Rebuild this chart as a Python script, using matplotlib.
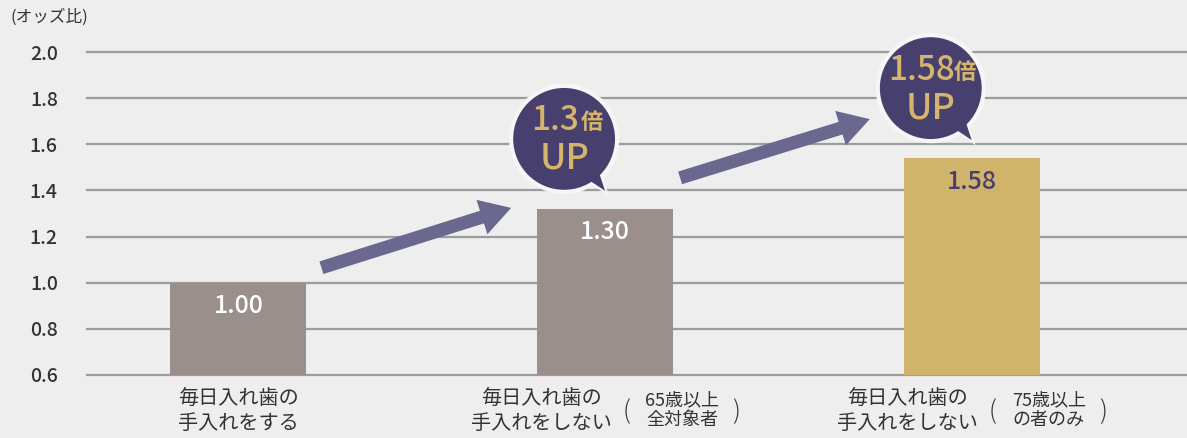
import matplotlib
matplotlib.use("Agg")
import matplotlib.pyplot as plt
import matplotlib.transforms as mtransforms
from matplotlib.patches import Circle, Polygon, FancyArrowPatch

plt.rcParams['font.family'] = ['Noto Sans CJK JP', 'DejaVu Sans']

# データ
categories = ["毎日入れ歯の\n手入れをする", "毎日入れ歯の\n手入れをしない", "毎日入れ歯の\n手入れをしない"]
notes = [None, "65歳以上\n全対象者", "75歳以上\nの者のみ"]
bar_heights = [1.00, 1.32, 1.54]          # 図から読んだ棒の高さ
value_labels = ["1.00", "1.30", "1.58"]
up_labels = [None, "1.3", "1.58"]
yticks = [0.6, 0.8, 1.0, 1.2, 1.4, 1.6, 1.8, 2.0]

BG = "#eeeeee"
GRID = "#9c9c9c"
TEXT = "#333333"
NAVY = "#47406e"
GOLD = "#d5b56b"
ARROW = "#6b6890"
HALO = "#f6f6f6"
bar_colors = ["#9a8f8b", "#9a8f8b", "#d1b46c"]
value_colors = ["white", "white", NAVY]

fig = plt.figure(figsize=(11.87, 4.38), dpi=100, facecolor=BG)
ax = fig.add_axes([87 / 1187, 63 / 438, 1 - 87 / 1187, (375 - 52) / 438])
ax.set_facecolor(BG)
ax.set_xlim(-0.413, 2.587)
ax.set_ylim(0.6, 2.0)
for s in ax.spines.values():
    s.set_visible(False)

# 目盛り・横線
ax.set_yticks(yticks)
ax.set_yticklabels([f"{v:.1f}" for v in yticks], fontsize=14, color=TEXT, fontweight="medium")
ax.tick_params(axis="y", length=0, pad=21)
ax.set_xticks([])
for v in yticks:
    ax.axhline(v, color=GRID, lw=1.6, zorder=1, clip_on=False)

xs = list(range(len(categories)))
ax.bar(xs, [h - 0.6 for h in bar_heights], bottom=0.6, width=0.371,
       color=bar_colors, zorder=2)

# 棒の中の数値
for x, h, lab, c in zip(xs, bar_heights, value_labels, value_colors):
    ax.annotate(lab, (x, h), xytext=(0, -17), textcoords="offset points",
                ha="center", va="center", fontsize=18, color=c, fontweight="medium", zorder=3)

# x軸ラベル
px = 0.72  # 1px = 0.72pt
for x, cat, note in zip(xs, categories, notes):
    dx = 0 if note is None else -64 * px
    ax.annotate(cat, (x, 0.6), xytext=(dx, -36 * px), textcoords="offset points",
                ha="center", va="center", fontsize=14.5, color=TEXT, linespacing=1.2,
                annotation_clip=False)
    if note is not None:
        ax.annotate(note, (x, 0.6), xytext=(77 * px, -35 * px), textcoords="offset points",
                    ha="center", va="center", fontsize=13, color=TEXT, linespacing=1.1,
                    annotation_clip=False)
        ax.annotate("(", (x, 0.6), xytext=(21 * px, -37 * px), textcoords="offset points",
                    ha="center", va="center", fontsize=18, color=TEXT, fontweight="light",
                    annotation_clip=False)
        ax.annotate(")", (x, 0.6), xytext=(131 * px, -37 * px), textcoords="offset points",
                    ha="center", va="center", fontsize=18, color=TEXT, fontweight="light",
                    annotation_clip=False)

fig.text(11 / 1187, 1 - 17 / 438, "(オッズ比)", fontsize=12, color=TEXT, ha="left", va="center")

# 吹き出し（棒の上端からピクセル単位でずらす）
for x, h, up in zip(xs, bar_heights, up_labels):
    if up is None:
        continue
    tr = fig.dpi_scale_trans + mtransforms.ScaledTranslation(x, h, ax.transData)
    cx, cy = -0.41, 0.70
    r = 0.53
    tail_pts = [(cx + 0.20, cy - 0.38), (cx + 0.41, cy - 0.52), (cx + 0.33, cy - 0.28)]
    ax.add_patch(Polygon(tail_pts, closed=True, transform=tr, facecolor=NAVY,
                         edgecolor=HALO, lw=3, zorder=4, clip_on=False))
    ax.add_patch(Circle((cx, cy), r, transform=tr, facecolor=NAVY, edgecolor=HALO, lw=3,
                        zorder=4.1, clip_on=False))
    ax.add_patch(Polygon(tail_pts, closed=True, transform=tr, facecolor=NAVY,
                         edgecolor="none", zorder=4.2, clip_on=False))
    ax.annotate(up, (x, h), xytext=((cx * 100 - 9) * px, (cy * 100 + 18) * px),
                textcoords="offset points", ha="center", va="center", fontsize=24,
                color=GOLD, fontweight="medium", zorder=5, annotation_clip=False)
    num_w = 10 + 13 * len(up)
    ax.annotate("倍", (x, h), xytext=((cx * 100 - 9 + num_w * 0.5 + 12) * px, (cy * 100 + 16) * px),
                textcoords="offset points", ha="center", va="center", fontsize=16,
                color=GOLD, fontweight="bold", zorder=5, annotation_clip=False)
    ax.annotate("UP", (x, h), xytext=(cx * 100 * px, (cy * 100 - 20) * px),
                textcoords="offset points", ha="center", va="center", fontsize=26,
                color=GOLD, fontweight="medium", zorder=5, annotation_clip=False)

# 矢印（棒の上端からピクセル単位でずらす）
arrow_offsets = [((83, 15), (-94, 1)), ((75, 31), (-102, 39))]
for i, (a, b) in enumerate(arrow_offsets):
    pa = ax.transData.transform((xs[i], bar_heights[i])) + a
    pb = ax.transData.transform((xs[i + 1], bar_heights[i + 1])) + b
    arr = FancyArrowPatch(pa, pb, transform=mtransforms.IdentityTransform(),
                          arrowstyle="simple,head_length=22,head_width=26,tail_width=9.5",
                          mutation_scale=1, color=ARROW, lw=0, zorder=3,
                          shrinkA=0, shrinkB=0)
    fig.add_artist(arr)

fig.savefig("out.png", dpi=100, facecolor=BG)
